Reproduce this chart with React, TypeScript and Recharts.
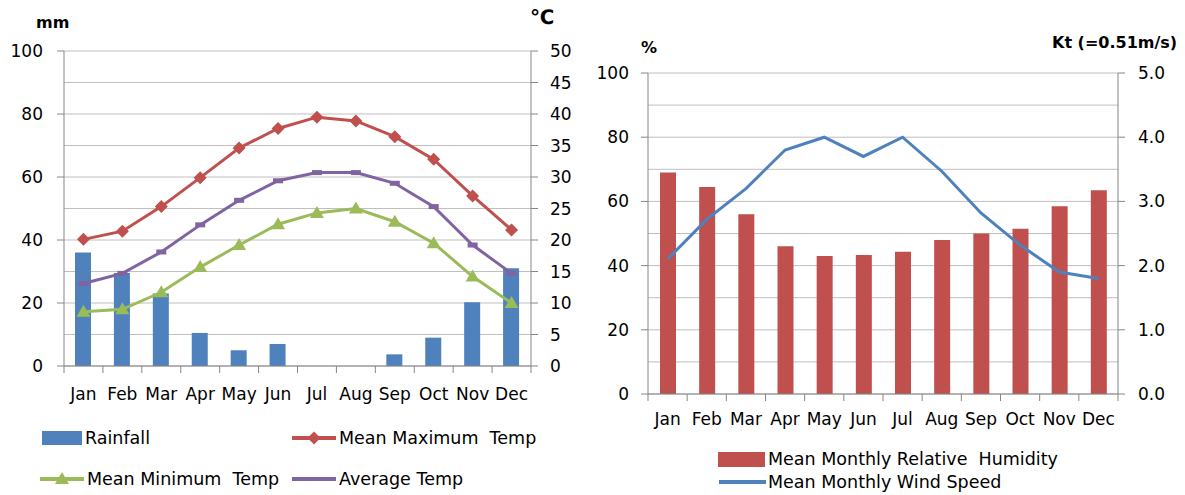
import React from 'react';
import { ComposedChart, Bar, Line, XAxis, YAxis, CartesianGrid } from 'recharts';

const months = ['Jan', 'Feb', 'Mar', 'Apr', 'May', 'Jun', 'Jul', 'Aug', 'Sep', 'Oct', 'Nov', 'Dec'];
const rainfall = [36, 29.5, 23, 10.5, 5, 7, 0, 0, 3.7, 9, 20.2, 31];
const maxTemp = [20.1, 21.4, 25.3, 29.9, 34.6, 37.7, 39.5, 38.9, 36.4, 32.8, 27, 21.6];
const minTemp = [8.6, 9, 11.7, 15.7, 19.2, 22.5, 24.3, 25, 22.9, 19.5, 14.2, 10];
const avgTemp = [13.1, 14.7, 18.1, 22.4, 26.3, 29.4, 30.7, 30.7, 29, 25.3, 19.2, 14.7];
const humidity = [69, 64.5, 56, 46, 43, 43.3, 44.3, 48, 50, 51.5, 58.5, 63.5];
const windSpeed = [2.1, 2.72, 3.2, 3.8, 4.0, 3.7, 4.0, 3.47, 2.82, 2.32, 1.9, 1.8];

const mmTicks = [0, 20, 40, 60, 80, 100];
const degTicks = [0, 5, 10, 15, 20, 25, 30, 35, 40, 45, 50];
const pctGridTicks = [0, 10, 20, 30, 40, 50, 60, 70, 80, 90, 100];
const pctLabelStep = 20;
const ktTicks = [0, 1, 2, 3, 4, 5];

const climateData = months.map((m, i) => ({
  month: m,
  rainfall: rainfall[i],
  maxTemp: maxTemp[i],
  minTemp: minTemp[i],
  avgTemp: avgTemp[i],
}));
const humidityData = months.map((m, i) => ({
  month: m,
  humidity: humidity[i],
  wind: windSpeed[i],
}));

const BLUE = '#4F81BD';
const RED = '#C0504D';
const GREEN = '#9BBB59';
const PURPLE = '#8064A2';
const AXIS = '#868686';
const GRID = '#BFBFBF';
const FONT = 'DejaVu Sans, sans-serif';
const tickStyle = { fontSize: 17, fill: '#000', fontFamily: FONT };

const Y_TICK_SIZE = 7;
const Y_TICK_MARGIN = 12;

const makeMonthTick = (labelDy: number) => (props: any) => {
  const { x, y, payload, index } = props;
  const half = payload && payload.offset != null ? payload.offset : 19.5;
  const last = index === months.length - 1;
  return (
    <g>
      <line x1={x - half} y1={y} x2={x - half} y2={y + 7} stroke={AXIS} />
      {last ? <line x1={x + half} y1={y} x2={x + half} y2={y + 7} stroke={AXIS} /> : null}
      <text x={x} y={y + labelDy} textAnchor="middle" style={tickStyle}>
        {payload.value}
      </text>
    </g>
  );
};

// Left percent axis: grid every 10, label + tick mark only every 20
const PctTick = (props: any) => {
  const { x, y, payload } = props;
  if (payload.value % pctLabelStep !== 0) return <g />;
  return (
    <g>
      <line
        x1={x + Y_TICK_MARGIN}
        y1={y}
        x2={x + Y_TICK_MARGIN + Y_TICK_SIZE}
        y2={y}
        stroke={AXIS}
      />
      <text x={x} y={y} dy="0.355em" textAnchor="end" style={tickStyle}>
        {payload.value}
      </text>
    </g>
  );
};

const diamondDot = (p: any) => {
  const { cx, cy, index } = p;
  if (cx == null || cy == null) return <g key={`dm-${index}`} />;
  return (
    <polygon
      key={`dm-${index}`}
      points={`${cx},${cy - 6.5} ${cx + 6.5},${cy} ${cx},${cy + 6.5} ${cx - 6.5},${cy}`}
      fill={RED}
    />
  );
};

const triangleDot = (p: any) => {
  const { cx, cy, index } = p;
  if (cx == null || cy == null) return <g key={`tr-${index}`} />;
  return (
    <polygon
      key={`tr-${index}`}
      points={`${cx},${cy - 7} ${cx + 7},${cy + 5} ${cx - 7},${cy + 5}`}
      fill={GREEN}
    />
  );
};

const dashDot = (p: any) => {
  const { cx, cy, index } = p;
  if (cx == null || cy == null) return <g key={`ds-${index}`} />;
  return <rect key={`ds-${index}`} x={cx - 5} y={cy - 2.5} width={10} height={5} fill={PURPLE} />;
};

const legendText: React.CSSProperties = {
  position: 'absolute',
  fontFamily: FONT,
  fontSize: 17.5,
  lineHeight: '20px',
  color: '#000',
  whiteSpace: 'pre',
};

const LineSwatch = ({ color, marker }: { color: string; marker?: 'diamond' | 'triangle' }) => (
  <svg width={44} height={16} style={{ display: 'block' }}>
    <line x1={0} y1={8} x2={44} y2={8} stroke={color} strokeWidth={4} />
    {marker === 'diamond' ? <polygon points="22,1.5 28.5,8 22,14.5 15.5,8" fill={color} /> : null}
    {marker === 'triangle' ? <polygon points="22,1 29,13 15,13" fill={color} /> : null}
  </svg>
);

const unitLabel: React.CSSProperties = {
  position: 'absolute',
  fontFamily: FONT,
  fontWeight: 'bold',
  fontSize: 16,
  lineHeight: '20px',
  color: '#000',
  whiteSpace: 'pre',
};

export default function App() {
  return (
    <div
      style={{
        position: 'absolute',
        left: 0,
        top: 0,
        width: 1185,
        height: 495,
        background: '#fff',
        fontFamily: FONT,
        overflow: 'hidden',
      }}
    >
      {/* Left chart */}
      <div style={{ position: 'absolute', left: 0, top: 0 }}>
        <ComposedChart
          width={590}
          height={495}
          data={climateData}
          margin={{ top: 51, right: 0, bottom: 99, left: 0 }}
        >
          <CartesianGrid yAxisId="deg" vertical={false} stroke={GRID} strokeWidth={1} />
          <XAxis
            dataKey="month"
            height={30}
            tickLine={false}
            tickSize={0}
            tickMargin={0}
            axisLine={{ stroke: AXIS }}
            interval={0}
            tick={makeMonthTick(34)}
          />
          <YAxis
            yAxisId="mm"
            orientation="left"
            width={64}
            domain={[0, 100]}
            ticks={mmTicks}
            interval={0}
            tickSize={Y_TICK_SIZE}
            tickMargin={14}
            tickLine={{ stroke: AXIS }}
            axisLine={{ stroke: AXIS }}
            tick={tickStyle}
          />
          <YAxis
            yAxisId="deg"
            orientation="right"
            width={59}
            domain={[0, 50]}
            ticks={degTicks}
            interval={0}
            tickSize={Y_TICK_SIZE}
            tickMargin={Y_TICK_MARGIN}
            tickLine={{ stroke: AXIS }}
            axisLine={{ stroke: AXIS }}
            tick={{ ...tickStyle, textAnchor: 'start' }}
          />
          <Bar yAxisId="mm" dataKey="rainfall" name="Rainfall" fill={BLUE} barSize={16} isAnimationActive={false} />
          <Line
            yAxisId="deg"
            dataKey="maxTemp"
            name="Mean Maximum Temp"
            stroke={RED}
            strokeWidth={3}
            dot={diamondDot}
            activeDot={false}
            isAnimationActive={false}
          />
          <Line
            yAxisId="deg"
            dataKey="avgTemp"
            name="Average Temp"
            stroke={PURPLE}
            strokeWidth={3}
            dot={dashDot}
            activeDot={false}
            isAnimationActive={false}
          />
          <Line
            yAxisId="deg"
            dataKey="minTemp"
            name="Mean Minimum Temp"
            stroke={GREEN}
            strokeWidth={3}
            dot={triangleDot}
            activeDot={false}
            isAnimationActive={false}
          />
        </ComposedChart>
      </div>

      {/* Right chart */}
      <div style={{ position: 'absolute', left: 590, top: 0 }}>
        <ComposedChart
          width={595}
          height={495}
          data={humidityData}
          margin={{ top: 73, right: 0, bottom: 71, left: 0 }}
        >
          <CartesianGrid yAxisId="pct" vertical={false} stroke={GRID} strokeWidth={1} />
          <XAxis
            dataKey="month"
            height={30}
            tickLine={false}
            tickSize={0}
            tickMargin={0}
            axisLine={{ stroke: AXIS }}
            interval={0}
            tick={makeMonthTick(31)}
          />
          <YAxis
            yAxisId="pct"
            orientation="left"
            width={58}
            domain={[0, 100]}
            ticks={pctGridTicks}
            interval={0}
            tickSize={Y_TICK_SIZE}
            tickMargin={Y_TICK_MARGIN}
            tickLine={false}
            axisLine={{ stroke: AXIS }}
            tick={PctTick}
          />
          <YAxis
            yAxisId="kt"
            orientation="right"
            width={67}
            domain={[0, 5]}
            ticks={ktTicks}
            interval={0}
            tickSize={Y_TICK_SIZE}
            tickMargin={13}
            tickLine={{ stroke: AXIS }}
            axisLine={{ stroke: AXIS }}
            tickFormatter={(v: number) => v.toFixed(1)}
            tick={{ ...tickStyle, textAnchor: 'start' }}
          />
          <Bar
            yAxisId="pct"
            dataKey="humidity"
            name="Mean Monthly Relative Humidity"
            fill={RED}
            barSize={16}
            isAnimationActive={false}
          />
          <Line
            yAxisId="kt"
            dataKey="wind"
            name="Mean Monthly Wind Speed"
            stroke={BLUE}
            strokeWidth={3}
            dot={false}
            activeDot={false}
            isAnimationActive={false}
          />
        </ComposedChart>
      </div>

      {/* Axis unit labels */}
      <div style={{ ...unitLabel, left: 36, top: 13 }}>mm</div>
      <div style={{ ...unitLabel, left: 530, top: 6, fontSize: 20, lineHeight: '22px' }}>℃</div>
      <div style={{ ...unitLabel, left: 641, top: 38 }}>%</div>
      <div style={{ ...unitLabel, left: 1052, top: 33 }}>Kt (=0.51m/s)</div>

      {/* Left legend */}
      <div style={{ position: 'absolute', left: 42, top: 431, width: 40, height: 14, background: BLUE }} />
      <div style={{ ...legendText, left: 85, top: 428 }}>Rainfall</div>
      <div style={{ position: 'absolute', left: 292, top: 430 }}>
        <LineSwatch color={RED} marker="diamond" />
      </div>
      <div style={{ ...legendText, left: 339, top: 428 }}>Mean Maximum  Temp</div>
      <div style={{ position: 'absolute', left: 40, top: 471 }}>
        <LineSwatch color={GREEN} marker="triangle" />
      </div>
      <div style={{ ...legendText, left: 87, top: 469 }}>Mean Minimum  Temp</div>
      <div style={{ position: 'absolute', left: 292, top: 471 }}>
        <LineSwatch color={PURPLE} />
      </div>
      <div style={{ ...legendText, left: 339, top: 469 }}>Average Temp</div>

      {/* Right legend */}
      <div style={{ position: 'absolute', left: 718, top: 452, width: 47, height: 15, background: RED }} />
      <div style={{ ...legendText, left: 768, top: 449 }}>Mean Monthly Relative  Humidity</div>
      <div style={{ position: 'absolute', left: 719, top: 474 }}>
        <svg width={47} height={16} style={{ display: 'block' }}>
          <line x1={0} y1={8} x2={47} y2={8} stroke={BLUE} strokeWidth={4} />
        </svg>
      </div>
      <div style={{ ...legendText, left: 768, top: 472 }}>Mean Monthly Wind Speed</div>
    </div>
  );
}
